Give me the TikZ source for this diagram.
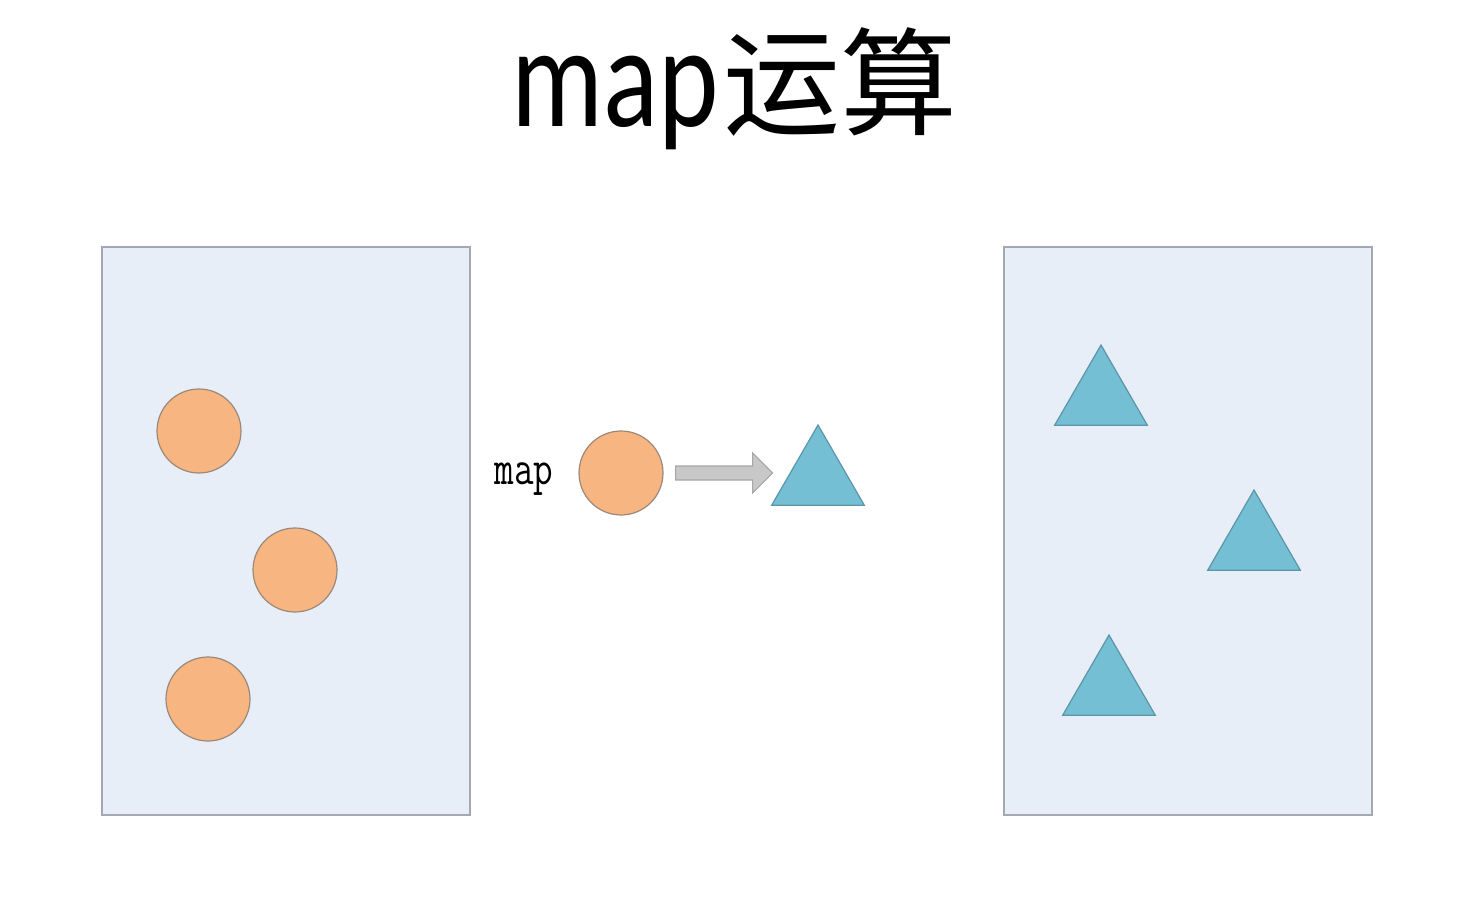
\documentclass[tikz,border=0pt]{standalone}
\usepackage{fontspec}
\usetikzlibrary{positioning,shapes.geometric,calc}
\newfontfamily\cjkfont{Noto Sans CJK SC}
\newfontfamily\titlefont{Carlito}
\definecolor{boxfill}{HTML}{E8EEF8}
\definecolor{boxline}{HTML}{A4A8B2}
\definecolor{ballfill}{HTML}{F7B581}
\definecolor{ballline}{HTML}{9C8878}
\definecolor{pyrfill}{HTML}{74BFD3}
\definecolor{pyrline}{HTML}{5B96A8}
\definecolor{arrowfill}{HTML}{C8C8C8}
\definecolor{arrowline}{HTML}{A6A6A6}

\begin{document}
\begin{tikzpicture}[
   x=1pt, y=-1pt,
   box/.style={draw=boxline, fill=boxfill, line width=1.2pt,
               minimum width=368pt, minimum height=568pt, inner sep=0pt},
   ball/.style={circle, draw=ballline, fill=ballfill, line width=1.2pt,
                minimum size=84pt, inner sep=0pt},
   pyramid/.style={regular polygon, regular polygon sides=3, draw=pyrline,
                   fill=pyrfill, line width=1.2pt, minimum size=107pt, inner sep=0pt},
   blockarrow/.style={draw=arrowline, fill=arrowfill, line width=1.2pt}
]
\tikzset{maplabel/.style={font=\ttfamily\fontsize{38}{38}\selectfont, inner sep=0pt}}
\useasboundingbox (0,0) rectangle (1460,920);

% title
\node[anchor=base west, inner sep=0pt] (title) at (511,127)
    {\fontsize{115}{115}\titlefont\scalebox{1}[1.26]{map}\hspace{5pt}%
     \fontsize{117}{117}\cjkfont 运算};

% input and output sets
\node[box] (inbox)  at (286,531) {};
\node[box] (outbox) at (1188,531) {};

\node[ball] (b1) at (199,431) {};
\node[ball] (b2) at (295,570) {};
\node[ball] (b3) at (208,699) {};

\node[pyramid] (t1) at (1101,398.5) {};
\node[pyramid] (t2) at (1254,543.5) {};
\node[pyramid] (t3) at (1109,688.5) {};

% the mapping in the middle
\node[ball] (mc) at (621,473) {};
\node[pyramid] (mt) at (818,478.5) {};
\node[maplabel, anchor=base east] (maplbl) at ($(mc.west)+(-25,11)$)
    {\scalebox{1}[1.3]{map}};

\draw[blockarrow] ($(mc.east)+(12,-7)$) -- ++(77,0) -- ++(0,-13) -- ++(20,20)
    -- ++(-20,20) -- ++(0,-13) -- ++(-77,0) -- cycle;
\end{tikzpicture}
\end{document}
